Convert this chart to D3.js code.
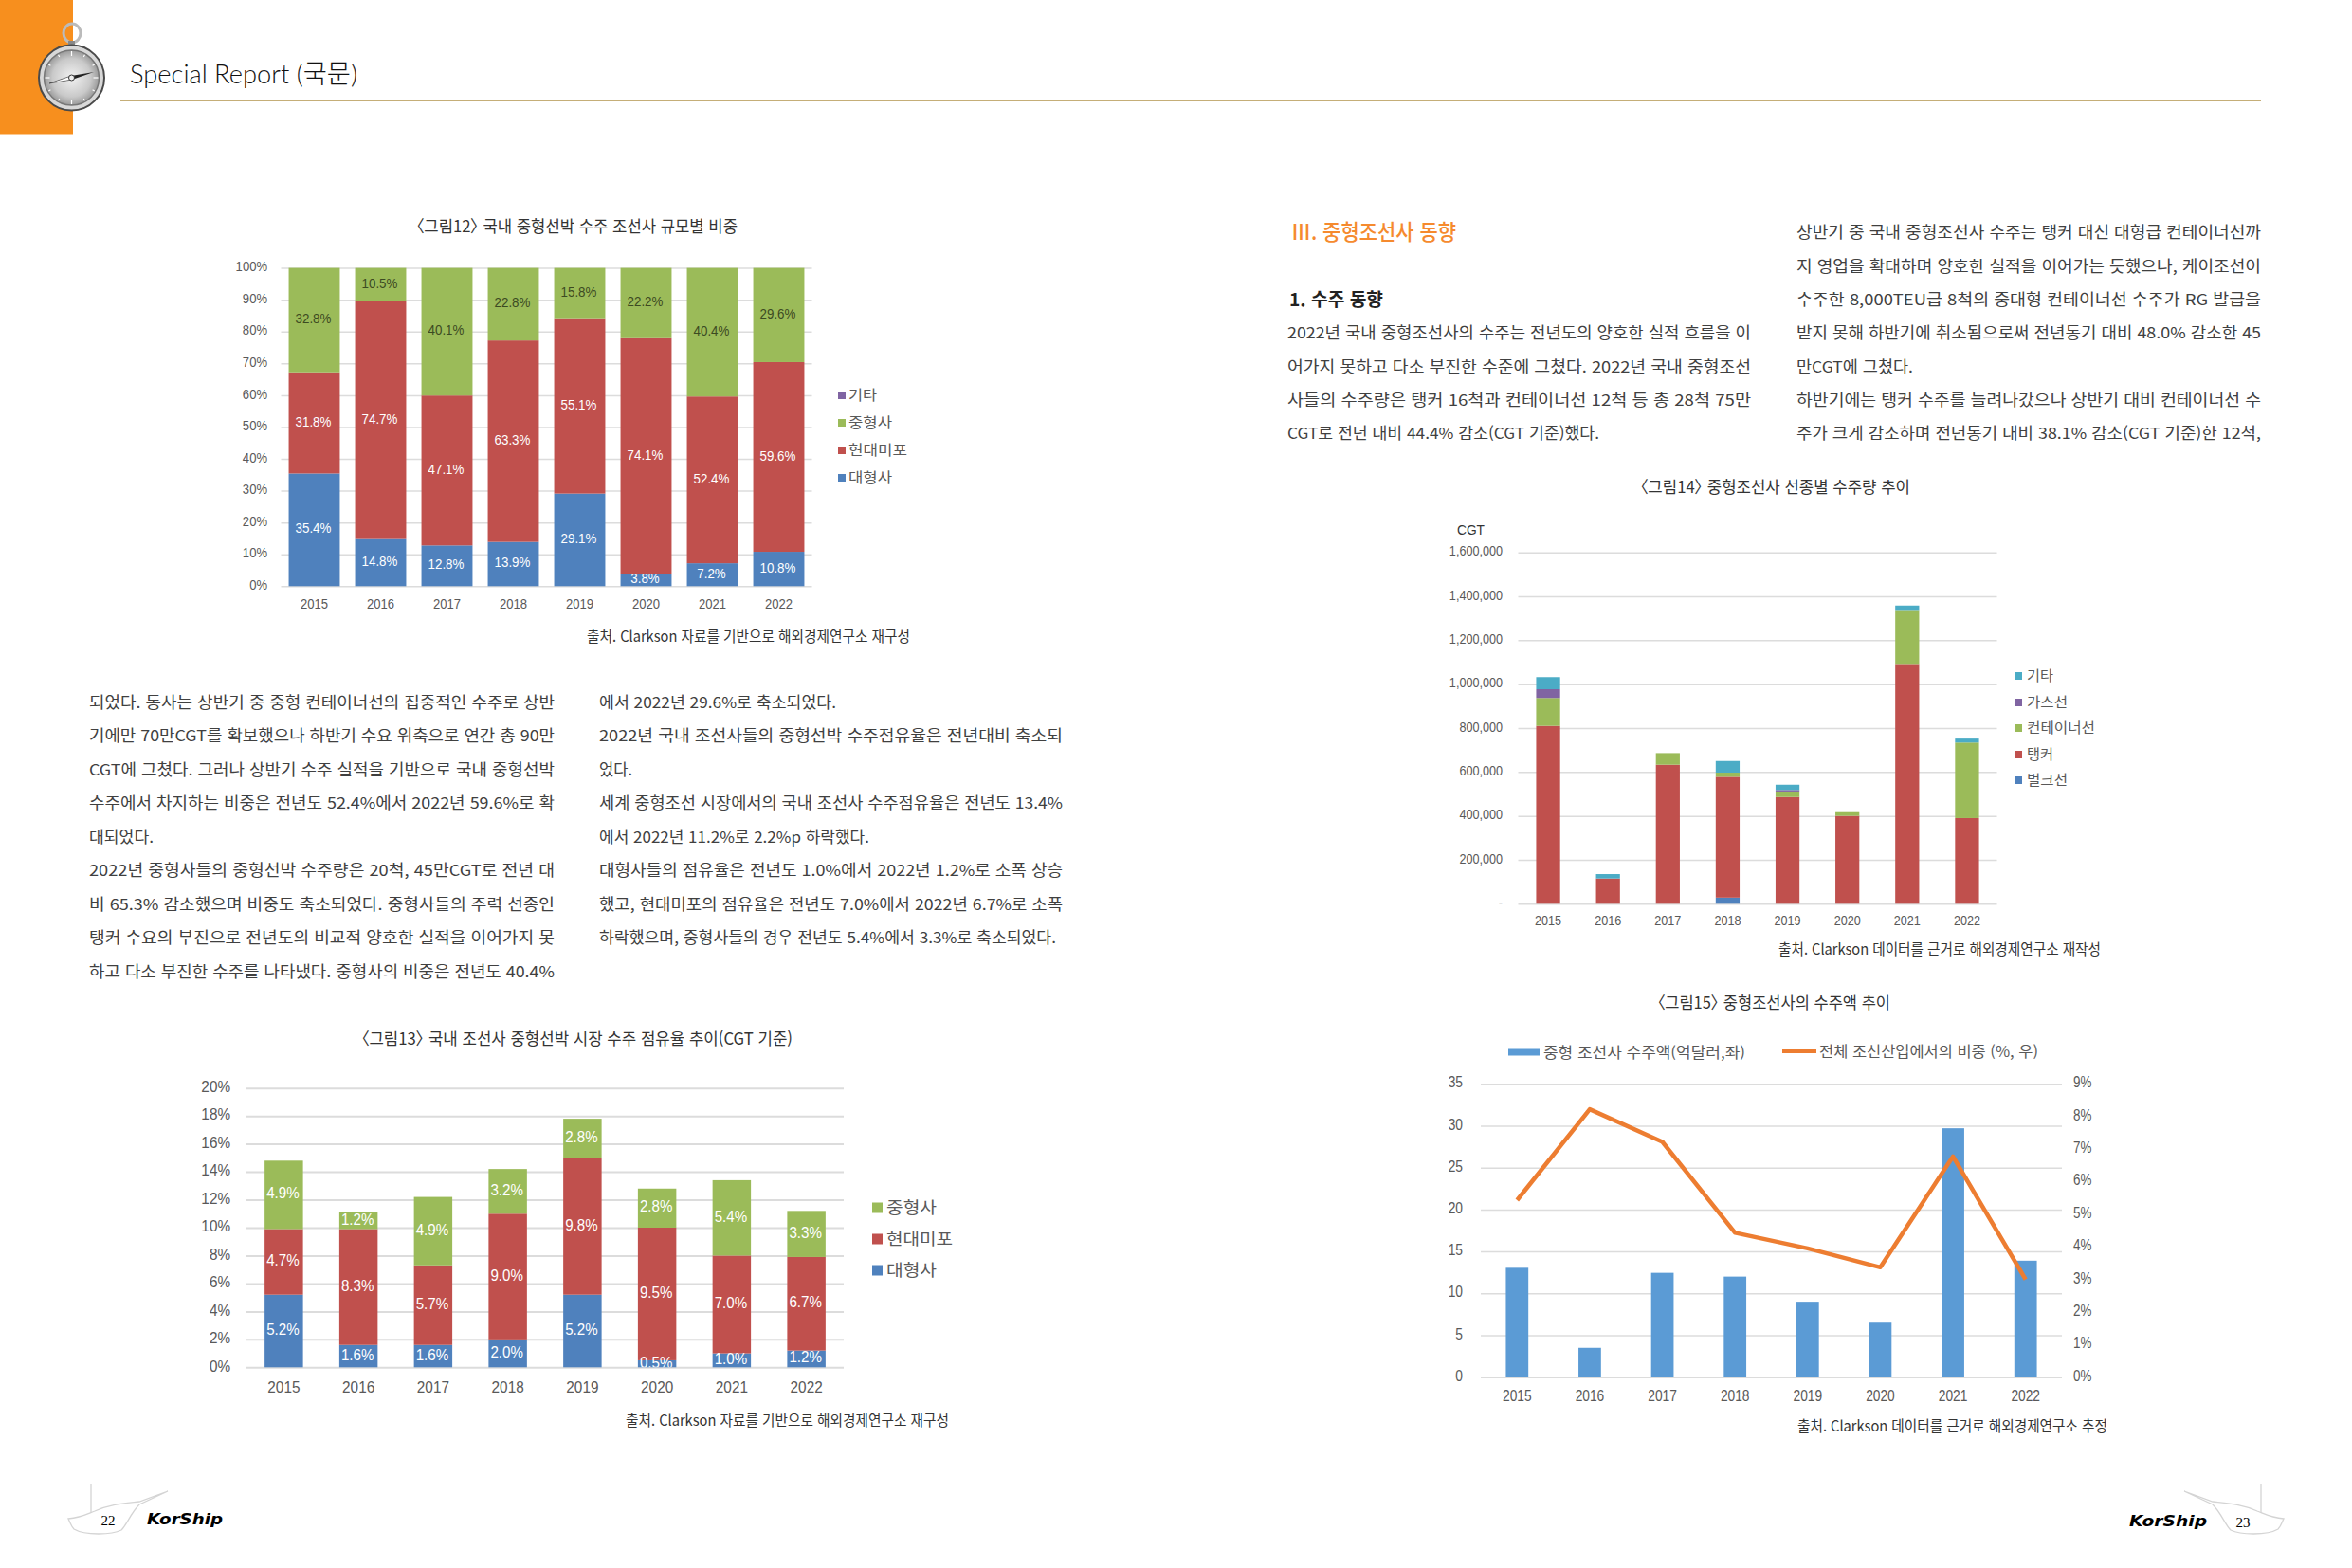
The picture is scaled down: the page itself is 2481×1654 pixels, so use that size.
<!DOCTYPE html>
<html lang="ko"><head><meta charset="utf-8">
<script src="https://cdn.jsdelivr.net/npm/d3@7"></script>
<style>html,body{margin:0;padding:0;background:#fff}svg{display:block}</style>
</head><body><svg id="page" width="2481" height="1654" xmlns="http://www.w3.org/2000/svg"></svg>
<script>
// ---------- data ----------
const years = ["2015","2016","2017","2018","2019","2020","2021","2022"];

const shareLarge = [35.4,14.8,12.8,13.9,29.1,3.8,7.2,10.8];
const shareMipo  = [31.8,74.7,47.1,63.3,55.1,74.1,52.4,59.6];
const shareMid   = [32.8,10.5,40.1,22.8,15.8,22.2,40.4,29.6];
const shareEtc   = [0,0,0,0,0,0,0,0];
const shareTicks = [0,10,20,30,40,50,60,70,80,90,100];

const marketLarge = [5.2,1.6,1.6,2.0,5.2,0.5,1.0,1.2];
const marketMipo  = [4.7,8.3,5.7,9.0,9.8,9.5,7.0,6.7];
const marketMid   = [4.9,1.2,4.9,3.2,2.8,2.8,5.4,3.3];
const marketTicks = [0,2,4,6,8,10,12,14,16,18,20];

const cgtBulk      = [0,0,0,28000,0,0,0,0];
const cgtTanker    = [810000,115000,633000,550000,486000,400000,1092000,390000];
const cgtContainer = [127000,0,53000,19000,25000,17000,246000,344000];
const cgtGas       = [40000,0,0,0,7000,0,0,0];
const cgtOther     = [55000,20000,0,53000,24000,0,20000,18000];
const cgtTicks     = [0,200000,400000,600000,800000,1000000,1200000,1400000,1600000];

const orderValue = [13.05,3.5,12.45,12.0,9.0,6.5,29.7,13.9];
const orderShare = [5.43,8.22,7.22,4.43,3.95,3.37,6.77,3.0];
const orderTicksLeft  = [0,5,10,15,20,25,30,35];
const orderTicksRight = [0,1,2,3,4,5,6,7,8,9];

const namesShare  = ["기타","중형사","현대미포","대형사"];
const namesMarket = ["중형사","현대미포","대형사"];
const namesCgt    = ["기타","가스선","컨테이너선","탱커","벌크선"];
const nameOrderBar  = "중형 조선사 수주액(억달러,좌)";
const nameOrderLine = "전체 조선산업에서의 비중 (%, 우)";

const titles = {
  c12:"〈그림12〉 국내 중형선박 수주 조선사 규모별 비중",
  c13:"〈그림13〉 국내 조선사 중형선박 시장 수주 점유율 추이(CGT 기준)",
  c14:"〈그림14〉 중형조선사 선종별 수주량 추이",
  c15:"〈그림15〉 중형조선사의 수주액 추이"
};
const sources = {
  c12:"출처. Clarkson 자료를 기반으로 해외경제연구소 재구성",
  c13:"출처. Clarkson 자료를 기반으로 해외경제연구소 재구성",
  c14:"출처. Clarkson 데이터를 근거로 해외경제연구소 재작성",
  c15:"출처. Clarkson 데이터를 근거로 해외경제연구소 추정"
};
const bodyA = ["되었다. 동사는 상반기 중 중형 컨테이너선의 집중적인 수주로 상반","기에만 70만CGT를 확보했으나 하반기 수요 위축으로 연간 총 90만","CGT에 그쳤다. 그러나 상반기 수주 실적을 기반으로 국내 중형선박","수주에서 차지하는 비중은 전년도 52.4%에서 2022년 59.6%로 확","대되었다.","2022년 중형사들의 중형선박 수주량은 20척, 45만CGT로 전년 대","비 65.3% 감소했으며 비중도 축소되었다. 중형사들의 주력 선종인","탱커 수요의 부진으로 전년도의 비교적 양호한 실적을 이어가지 못","하고 다소 부진한 수주를 나타냈다. 중형사의 비중은 전년도 40.4%"];
const bodyB = ["에서 2022년 29.6%로 축소되었다.","2022년 국내 조선사들의 중형선박 수주점유율은 전년대비 축소되","었다.","세계 중형조선 시장에서의 국내 조선사 수주점유율은 전년도 13.4%","에서 2022년 11.2%로 2.2%p 하락했다.","대형사들의 점유율은 전년도 1.0%에서 2022년 1.2%로 소폭 상승","했고, 현대미포의 점유율은 전년도 7.0%에서 2022년 6.7%로 소폭","하락했으며, 중형사들의 경우 전년도 5.4%에서 3.3%로 축소되었다."];
const bodyC = ["2022년 국내 중형조선사의 수주는 전년도의 양호한 실적 흐름을 이","어가지 못하고 다소 부진한 수준에 그쳤다. 2022년 국내 중형조선","사들의 수주량은 탱커 16척과 컨테이너선 12척 등 총 28척 75만","CGT로 전년 대비 44.4% 감소(CGT 기준)했다."];
const bodyD = ["상반기 중 국내 중형조선사 수주는 탱커 대신 대형급 컨테이너선까","지 영업을 확대하며 양호한 실적을 이어가는 듯했으나, 케이조선이","수주한 8,000TEU급 8척의 중대형 컨테이너선 수주가 RG 발급을","받지 못해 하반기에 취소됨으로써 전년동기 대비 48.0% 감소한 45","만CGT에 그쳤다.","하반기에는 탱커 수주를 늘려나갔으나 상반기 대비 컨테이너선 수","주가 크게 감소하며 전년동기 대비 38.1% 감소(CGT 기준)한 12척,"];

// ---------- helpers ----------
const svg = d3.select("#page");
const KR = '"Noto Sans CJK KR","Noto Sans",sans-serif';
const LAT = '"Liberation Sans","Noto Sans CJK KR",sans-serif';
const C = {blue:"#4F81BD",red:"#C0504D",green:"#9BBB59",purple:"#8064A2",cyan:"#4BACC6",grid:"#DCDCDC",tick:"#595959"};

function txt(str,x,y,o={}){
  const t = svg.append("text").attr("x",x).attr("y",y-1.5).text(str)
    .attr("dominant-baseline","central")
    .attr("font-family",o.family||KR).attr("font-size",o.size||16)
    .attr("font-weight",o.weight||400).attr("font-style",o.style||"normal")
    .attr("fill",o.fill||"#3a3a3a")
    .style("font-feature-settings",'"palt"');
  if(o.w){ t.attr("textLength",o.w).attr("lengthAdjust","spacingAndGlyphs"); }
  return t;
}
function squeeze(sel,k){
  sel.each(function(){
    const l=this.getComputedTextLength();
    d3.select(this).attr("textLength",l*k).attr("lengthAdjust","spacingAndGlyphs");
  });
}
function para(lines,x,ys,fullW,widths){
  lines.forEach((s,i)=>txt(s,x,ys[i],{size:16.5,w:widths[i]||fullW,fill:"#404040"}));
}
function band(xr,p){
  return d3.scaleBand().domain(years).range(xr).paddingInner(p).paddingOuter(p/2);
}
function axes(g,x,y,w,o){
  const ax = g.append("g").attr("transform",`translate(0,${y.range()[0]})`)
    .call(d3.axisBottom(x).tickSize(0).tickPadding(o.xPad));
  ax.select(".domain").remove();
  ax.selectAll("text").attr("font-family",LAT).attr("font-size",o.size).attr("fill",C.tick).call(squeeze,o.k);
  const ay = g.append("g").attr("transform",`translate(${x.range()[0]},0)`)
    .call(d3.axisLeft(y).tickValues(o.ticks).tickFormat(o.fmt).tickSize(-w).tickPadding(o.yPad));
  ay.select(".domain").remove();
  ay.selectAll("line").attr("stroke",C.grid).attr("stroke-width",o.gw||1.5);
  ay.selectAll("text").attr("font-family",LAT).attr("font-size",o.size).attr("fill",C.tick).attr("dy","0.22em").call(squeeze,o.k);
}
function stacked(id,o){
  const g = svg.append("g").attr("id",id);
  const x = band(o.xr,o.pad);
  const y = d3.scaleLinear().domain(o.domain).range(o.yr);
  axes(g,x,y,o.xr[1]-o.xr[0],o);
  const rows = years.map((yr,i)=>{const r={year:yr};o.series.forEach(s=>r[s.key]=s.values[i]);return r;});
  const layers = d3.stack().keys(o.series.map(s=>s.key))(rows);
  const clipId = id+"-clip";
  g.append("clipPath").attr("id",clipId).append("rect")
    .attr("x",o.xr[0]).attr("y",o.yr[1]-10).attr("width",o.xr[1]-o.xr[0]).attr("height",o.yr[0]-o.yr[1]+10);
  layers.forEach((l,si)=>{
    const s=o.series[si];
    g.append("g").attr("fill",s.color).selectAll("rect").data(l).join("rect")
      .attr("x",d=>x(d.data.year)).attr("width",x.bandwidth())
      .attr("y",d=>y(Math.min(d[1],o.domain[1]))).attr("height",d=>Math.max(0,y(d[0])-y(Math.min(d[1],o.domain[1]))));
  });
  if(o.labels) layers.forEach((l,si)=>{
    const s=o.series[si];
    const lab=g.append("g").attr("clip-path",`url(#${clipId})`).selectAll("text").data(l.filter(d=>d[1]-d[0]>0)).join("text")
      .attr("x",d=>x(d.data.year)+x.bandwidth()/2-1).attr("y",d=>y((d[0]+d[1])/2)-1.5)
      .attr("text-anchor","middle").attr("dominant-baseline","central")
      .attr("font-family",LAT).attr("font-size",o.labelSize)
      .attr("fill",s.labelFill||"#fff").text(d=>(d[1]-d[0]).toFixed(1)+"%");
    lab.call(squeeze,o.labelK);
  });
}
function legend(names,colors,xBox,xText,ys,box,size,widths){
  names.forEach((n,i)=>{
    svg.append("rect").attr("x",xBox).attr("y",ys[i]-box/2).attr("width",box).attr("height",box).attr("fill",colors[i]);
    txt(n,xText,ys[i],{size,w:widths[i],fill:"#595959"});
  });
}

// ---------- header ----------
svg.append("rect").attr("width",77).attr("height",141.5).attr("fill","#F78F1E");
svg.append("line").attr("x1",127).attr("x2",2385).attr("y1",106).attr("y2",106).attr("stroke","#C5AE78").attr("stroke-width",2);
const defs = svg.append("defs");
const rg = defs.append("radialGradient").attr("id","face");
rg.append("stop").attr("offset","0%").attr("stop-color","#f2f2f2");
rg.append("stop").attr("offset","70%").attr("stop-color","#c9c9c9");
rg.append("stop").attr("offset","100%").attr("stop-color","#9a9a9a");
svg.append("ellipse").attr("cx",76).attr("cy",35).attr("rx",9).attr("ry",10).attr("fill","none").attr("stroke","#bbb").attr("stroke-width",3);
svg.append("rect").attr("x",72).attr("y",43).attr("width",7).attr("height",6).attr("fill","#888");
svg.append("circle").attr("cx",75.5).attr("cy",82).attr("r",34.5).attr("fill","#d8d8d8").attr("stroke","#4a4a4a").attr("stroke-width",2);
svg.append("circle").attr("cx",75.5).attr("cy",82).attr("r",29).attr("fill","url(#face)").attr("stroke","#777").attr("stroke-width",1.5);
d3.range(12).forEach(i=>{
  const a=i*Math.PI/6, r0=i%3==0?23:25.5, r1=28;
  svg.append("line").attr("x1",75.5+r0*Math.sin(a)).attr("y1",82-r0*Math.cos(a))
    .attr("x2",75.5+r1*Math.sin(a)).attr("y2",82-r1*Math.cos(a)).attr("stroke","#fff").attr("stroke-width",1.2);
});
svg.append("polygon").attr("points","52,88 75,80 99,76 76,84").attr("fill","#222");
svg.append("polygon").attr("points","52,88 75,80 76,84").attr("fill","#fff").attr("stroke","#222").attr("stroke-width",.5);
svg.append("circle").attr("cx",75.5).attr("cy",82).attr("r",3).attr("fill","#eee").attr("stroke","#333");
txt("Special Report (국문)",137,78,{family:'Lato,"Noto Sans CJK KR",sans-serif',size:28,weight:300,w:240,fill:"#111"});

// ---------- chart 12 ----------
txt(titles.c12,439,239,{size:17.5,w:339,fill:"#333"});
stacked("c12",{xr:[296.5,856.5],yr:[618.3,282.6],pad:0.23,domain:[0,100],ticks:shareTicks,fmt:d=>d+"%",
  size:14.5,k:.9,xPad:13,yPad:14.5,labels:true,labelSize:14.5,labelK:.92,
  series:[{key:"large",values:shareLarge,color:C.blue},{key:"mipo",values:shareMipo,color:C.red},
          {key:"mid",values:shareMid,color:C.green,labelFill:"#3c4a22"},{key:"etc",values:shareEtc,color:C.purple}]});
legend(namesShare,[C.purple,C.green,C.red,C.blue],884,895,[417,446,475,504],8,15,[30,46,62,46]);
txt(sources.c12,619,671,{size:15.5,w:341,fill:"#333"});

// ---------- body text, left page ----------
const ysA=d3.range(9).map(i=>741+i*35.5);
para(bodyA,94,ysA,491,{4:68});
para(bodyB,632,ysA,489,{0:250,2:35,4:285,7:482});

// ---------- chart 13 ----------
txt(titles.c13,381,1096,{size:17.5,w:455,fill:"#333"});
stacked("c13",{xr:[260,890],yr:[1442.3,1147.7],pad:0.486,domain:[0,20],ticks:marketTicks,fmt:d=>d+"%",
  size:17,k:.9,xPad:15,yPad:17,gw:2,labels:true,labelSize:17,labelK:.89,
  series:[{key:"large",values:marketLarge,color:C.blue},{key:"mipo",values:marketMipo,color:C.red},{key:"mid",values:marketMid,color:C.green}]});
legend(namesMarket,[C.green,C.red,C.blue],920,935,[1274,1307,1340],11,17,[53,70,53]);
txt(sources.c13,660,1498,{size:15.5,w:341,fill:"#333"});

// ---------- body text, right page ----------
txt("Ⅲ. 중형조선사 동향",1362,244,{size:23,w:174,fill:"#F58A2E",weight:500});
txt("1. 수주 동향",1360,316,{size:19,w:99,fill:"#222",weight:700});
const ysC=[351,387,422,457];
para(bodyC,1358,ysC,489,{3:329});
para(bodyD,1895,[245,281,316,351,387,422,457],490,{4:123});
txt(titles.c14,1730,514,{size:17.5,w:285,fill:"#333"});

// ---------- chart 14 ----------
txt("CGT",1537,560,{family:LAT,size:15,w:29,fill:"#333"});
stacked("c14",{xr:[1601.5,2106.5],yr:[953.3,582.7],pad:0.6,domain:[0,1600000],ticks:cgtTicks,
  fmt:d=>d===0?"-":d3.format(",")(d),size:14.5,k:.87,xPad:12,yPad:16.5,labels:false,
  series:[{key:"bulk",values:cgtBulk,color:C.blue},{key:"tanker",values:cgtTanker,color:C.red},
          {key:"container",values:cgtContainer,color:C.green},{key:"gas",values:cgtGas,color:C.purple},{key:"other",values:cgtOther,color:C.cyan}]});
legend(namesCgt,[C.cyan,C.purple,C.green,C.red,C.blue],2125,2138,[713,741,768,796,823],8,14.5,[28,43,72,28,43]);
txt(sources.c14,1876,1001,{size:15.5,w:340,fill:"#333"});

// ---------- chart 15 ----------
txt(titles.c15,1748,1058,{size:17.5,w:246,fill:"#333"});
(function(){
  const xr=[1562,2175], yr=[1452.7,1143.3];
  const g=svg.append("g").attr("id","c15");
  const x=band(xr,0.69);
  const y=d3.scaleLinear().domain([0,35]).range(yr);
  const y2=d3.scaleLinear().domain([0,9]).range(yr);
  axes(g,x,y,xr[1]-xr[0],{xPad:14,yPad:19,size:16,k:.86,ticks:orderTicksLeft,fmt:d3.format("d")});
  const ar=g.append("g").attr("transform",`translate(${xr[1]},0)`)
    .call(d3.axisRight(y2).tickValues(orderTicksRight).tickFormat(d=>d+"%").tickSize(0).tickPadding(12));
  ar.select(".domain").remove();
  ar.selectAll("text").attr("font-family",LAT).attr("font-size",16).attr("fill",C.tick).attr("dy","0.22em").call(squeeze,.84);
  const rows=years.map((yr,i)=>({yr,v:orderValue[i],s:orderShare[i]}));
  g.selectAll("rect.b").data(rows).join("rect").attr("class","b").attr("fill","#5B9BD5")
    .attr("x",d=>x(d.yr)).attr("width",x.bandwidth()).attr("y",d=>y(d.v)).attr("height",d=>y(0)-y(d.v));
  g.append("path").datum(rows).attr("fill","none").attr("stroke","#ED7D31").attr("stroke-width",4.5).attr("stroke-linejoin","round")
    .attr("d",d3.line().x(d=>x(d.yr)+x.bandwidth()/2).y(d=>y2(d.s)));
})();
svg.append("rect").attr("x",1591).attr("y",1106.5).attr("width",33).attr("height",7).attr("fill","#5B9BD5");
txt(nameOrderBar,1628,1110,{size:15.5,w:213,fill:"#595959"});
svg.append("line").attr("x1",1880).attr("x2",1916).attr("y1",1109).attr("y2",1109).attr("stroke","#ED7D31").attr("stroke-width",4);
txt(nameOrderLine,1919,1109,{size:15.5,w:231,fill:"#595959"});
txt(sources.c15,1896,1504,{size:15.5,w:327,fill:"#333"});

// ---------- footer ----------
const hull="M72,1602 C85,1601 90,1598 100,1594 C115,1587 130,1586 147,1584 L177,1573 L147,1587 C138,1596 134,1608 128,1614 C118,1619 90,1620 78,1613 C75,1610 74,1606 72,1602 Z";
[0,1].forEach(m=>{
  const b=svg.append("g").attr("fill","none").attr("stroke","#D4D4D4").attr("stroke-width",1.3);
  if(m) b.attr("transform","translate(2481,0) scale(-1,1)");
  b.append("path").attr("d",hull);
  b.append("line").attr("x1",96).attr("x2",96).attr("y1",1565).attr("y2",1596);
});
txt("22",114,1605,{family:'"Liberation Serif",serif',size:15,fill:"#000"}).attr("text-anchor","middle");
txt("23",2366,1607,{family:'"Liberation Serif",serif',size:15,fill:"#000"}).attr("text-anchor","middle");
txt("KorShip",155,1604,{family:'"DejaVu Sans",sans-serif',size:16,weight:700,style:"italic",w:80,fill:"#000"});
txt("KorShip",2246,1606,{family:'"DejaVu Sans",sans-serif',size:16,weight:700,style:"italic",w:82,fill:"#000"});
</script></body></html>
